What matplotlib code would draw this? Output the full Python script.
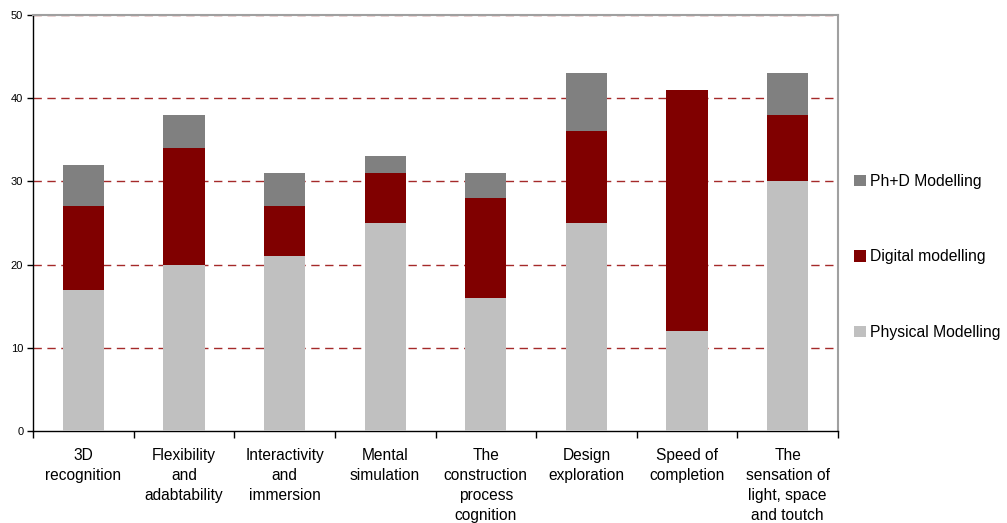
import matplotlib
matplotlib.use("Agg")
import matplotlib.pyplot as plt
import numpy as np

plt.rcParams['font.family'] = ['Liberation Sans', 'DejaVu Sans']

categories = ["3D\nrecognition", "Flexibility\nand\nadabtability", "Interactivity\nand\nimmersion",
              "Mental\nsimulation", "The\nconstruction\nprocess\ncognition", "Design\nexploration",
              "Speed of\ncompletion", "The\nsensation of\nlight, space\nand toutch"]
physical = [17, 20, 21, 25, 16, 25, 12, 30]
digital = [10, 14, 6, 6, 12, 11, 29, 8]
phd = [5, 4, 4, 2, 3, 7, 0, 5]

series_names = ["Physical Modelling", "Digital modelling", "Ph+D Modelling"]
colors = ["#C0C0C0", "#800000", "#808080"]

fig = plt.figure(figsize=(10.07, 5.23), dpi=100)
ax = fig.add_axes([33/1007, 1-431/523, (838-33)/1007, (431-15)/523])

x = np.arange(len(categories))
w = 0.41
bottom = np.zeros(len(categories))
handles = []
for vals, name, c in zip([physical, digital, phd], series_names, colors):
    b = ax.bar(x, vals, w, bottom=bottom, color=c, label=name, zorder=3)
    handles.append(b)
    bottom += np.array(vals)

ax.set_xlim(-0.5, len(categories) - 0.5)
ax.set_ylim(0, 50)
ax.set_yticks(range(0, 51, 10))
for yv in range(10, 51, 10):
    ax.axhline(yv, color="#A52A2A", linestyle=(0, (6, 4)), linewidth=1.0, zorder=1)

ax.set_xticks(np.arange(-0.5, len(categories), 1.0))
ax.set_xticklabels([])
ax.set_xticks(x, minor=True)
ax.set_xticklabels(categories, minor=True, fontsize=11.2, linespacing=1.42)
ax.tick_params(axis="x", which="minor", length=0, pad=12)
ax.tick_params(axis="x", which="major", length=5, direction="out", width=1)
ax.tick_params(axis="y", length=4, direction="out", labelsize=8, pad=3, width=1)

for s in ["left", "bottom"]:
    ax.spines[s].set_color("black")
    ax.spines[s].set_linewidth(1)
ax.spines["right"].set_color("#A0A0A0")
ax.spines["right"].set_linewidth(1.5)
ax.spines["top"].set_color("#A0A0A0")
ax.spines["top"].set_linewidth(1.5)

# legend centred on the middle entry, a little below the axes centre
leg_center_y = 1 - (257 - 15) / (431 - 15)
leg = ax.legend(handles[::-1], series_names[::-1], loc="center left",
                bbox_to_anchor=(1.012, leg_center_y), frameon=False, fontsize=11.3,
                handlelength=0.75, handleheight=0.75, handletextpad=0.3,
                labelspacing=3.85, borderaxespad=0)

fig.savefig("out.png", dpi=100)
